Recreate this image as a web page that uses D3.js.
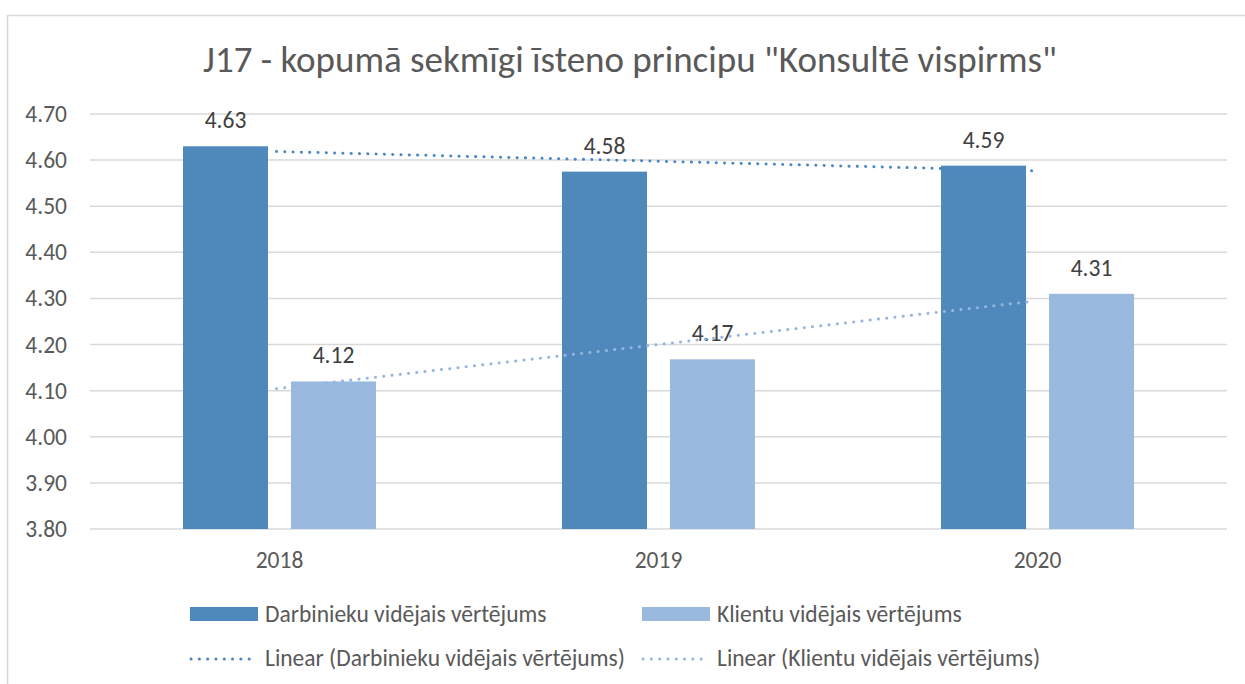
<!DOCTYPE html>
<html>
<head>
<meta charset="utf-8">
<script src="https://cdn.jsdelivr.net/npm/d3@7"></script>
<style>
  body { margin: 0; background: #fff; }
  svg text { font-family: Carlito, Calibri, "Liberation Sans Narrow", "Open Sans", sans-serif; fill: #595959; }
</style>
</head>
<body>
<div id="chart"></div>
<script>
// Data
var years = ["2018", "2019", "2020"];
var series = ["Darbinieku vidējais vērtējums", "Klientu vidējais vērtējums"];
var darbinieki = [4.63, 4.575, 4.588];
var klienti = [4.12, 4.168, 4.31];
var labelsD = ["4.63", "4.58", "4.59"];
var labelsK = ["4.12", "4.17", "4.31"];
var yTicks = [3.8, 3.9, 4.0, 4.1, 4.2, 4.3, 4.4, 4.5, 4.6, 4.7];
var title = "J17 - kopumā sekmīgi īsteno principu \"Konsultē vispirms\"";

(function() {
  var W = 1245, H = 684;
  var colors = ["#4f89bc", "#99b9df"];
  var trendColors = ["#4a86c3", "#94b7e0"];

  var svg = d3.select("#chart").append("svg")
    .attr("width", W).attr("height", H);

  svg.append("rect").attr("width", W).attr("height", H).attr("fill", "#fff");

  // Outer frame (top + left visible)
  svg.append("path")
    .attr("d", "M7.5," + H + "V15.5H" + W)
    .attr("fill", "none").attr("stroke", "#d9d9d9").attr("stroke-width", 1.5);

  svg.append("text")
    .attr("x", 630).attr("y", 72)
    .attr("text-anchor", "middle")
    .style("font-size", "37px")
    .text(title);

  var x = d3.scaleBand().domain(years).range([90, 1227]);
  var sub = d3.scaleBand().domain(series).range([0, x.bandwidth()])
    .paddingInner(0.213).paddingOuter(0.861);
  var y = d3.scaleLinear().domain([3.8, 4.7]).range([529, 114]);

  // Gridlines
  svg.append("g").selectAll("line").data(yTicks).enter().append("line")
    .attr("x1", 90).attr("x2", 1227)
    .attr("y1", function(d) { return y(d); })
    .attr("y2", function(d) { return y(d); })
    .attr("stroke", "#d9d9d9").attr("stroke-width", 1.5);

  // Y labels
  svg.append("g").selectAll("text").data(yTicks).enter().append("text")
    .attr("x", 67).attr("y", function(d) { return y(d) + 8; })
    .attr("text-anchor", "end")
    .style("font-size", "23.5px")
    .text(d3.format(".2f"));

  // X labels
  svg.append("g").selectAll("text").data(years).enter().append("text")
    .attr("x", function(d) { return x(d) + x.bandwidth() / 2; })
    .attr("y", 568)
    .attr("text-anchor", "middle")
    .style("font-size", "23.5px")
    .text(function(d) { return d; });

  var sets = [
    { name: series[0], values: darbinieki, labels: labelsD },
    { name: series[1], values: klienti, labels: labelsK }
  ];

  sets.forEach(function(s, si) {
    var g = svg.append("g");
    g.selectAll("rect").data(s.values).enter().append("rect")
      .attr("x", function(d, i) { return x(years[i]) + sub(s.name); })
      .attr("y", function(d) { return y(d); })
      .attr("width", sub.bandwidth())
      .attr("height", function(d) { return y(3.8) - y(d); })
      .attr("fill", colors[si]);

    g.selectAll("text").data(s.values).enter().append("text")
      .attr("x", function(d, i) { return x(years[i]) + sub(s.name) + sub.bandwidth() / 2; })
      .attr("y", function(d) { return y(d) - 18; })
      .attr("text-anchor", "middle")
      .style("font-size", "23.5px")
      .style("fill", "#404040")
      .text(function(d, i) { return s.labels[i]; });
  });

  // Linear trend lines
  sets.forEach(function(s, si) {
    var n = s.values.length;
    var xs = d3.range(1, n + 1);
    var mx = d3.mean(xs), my = d3.mean(s.values);
    var slope = d3.sum(xs, function(v, i) { return (v - mx) * (s.values[i] - my); }) /
                d3.sum(xs, function(v) { return (v - mx) * (v - mx); });
    var ends = [xs[0], xs[n - 1]];
    var line = d3.line()
      .x(function(d) { return x(years[d - 1]) + x.bandwidth() / 2 - 3; })
      .y(function(d) { return y(my + slope * (d - mx)); });
    svg.append("path")
      .datum(ends)
      .attr("d", line)
      .attr("fill", "none")
      .attr("stroke", trendColors[si])
      .attr("stroke-width", 3)
      .attr("stroke-linecap", "round")
      .attr("stroke-dasharray", "0.1 8.2");
  });

  // Legend
  var legend = svg.append("g");
  var lx = [190, 642];
  series.forEach(function(name, i) {
    legend.append("rect")
      .attr("x", lx[i]).attr("y", 607).attr("width", 68).attr("height", 14)
      .attr("fill", colors[i]);
    legend.append("text")
      .attr("x", lx[i] + 75).attr("y", 622)
      .style("font-size", "23.5px")
      .text(name);
    legend.append("line")
      .attr("x1", lx[i] + 1).attr("x2", lx[i] + 67)
      .attr("y1", 659).attr("y2", 659)
      .attr("stroke", trendColors[i]).attr("stroke-width", 3)
      .attr("stroke-linecap", "round")
      .attr("stroke-dasharray", "0.1 8.2");
    legend.append("text")
      .attr("x", lx[i] + 75).attr("y", 666)
      .style("font-size", "23.5px")
      .text("Linear (" + name + ")");
  });
})();
</script>
</body>
</html>
